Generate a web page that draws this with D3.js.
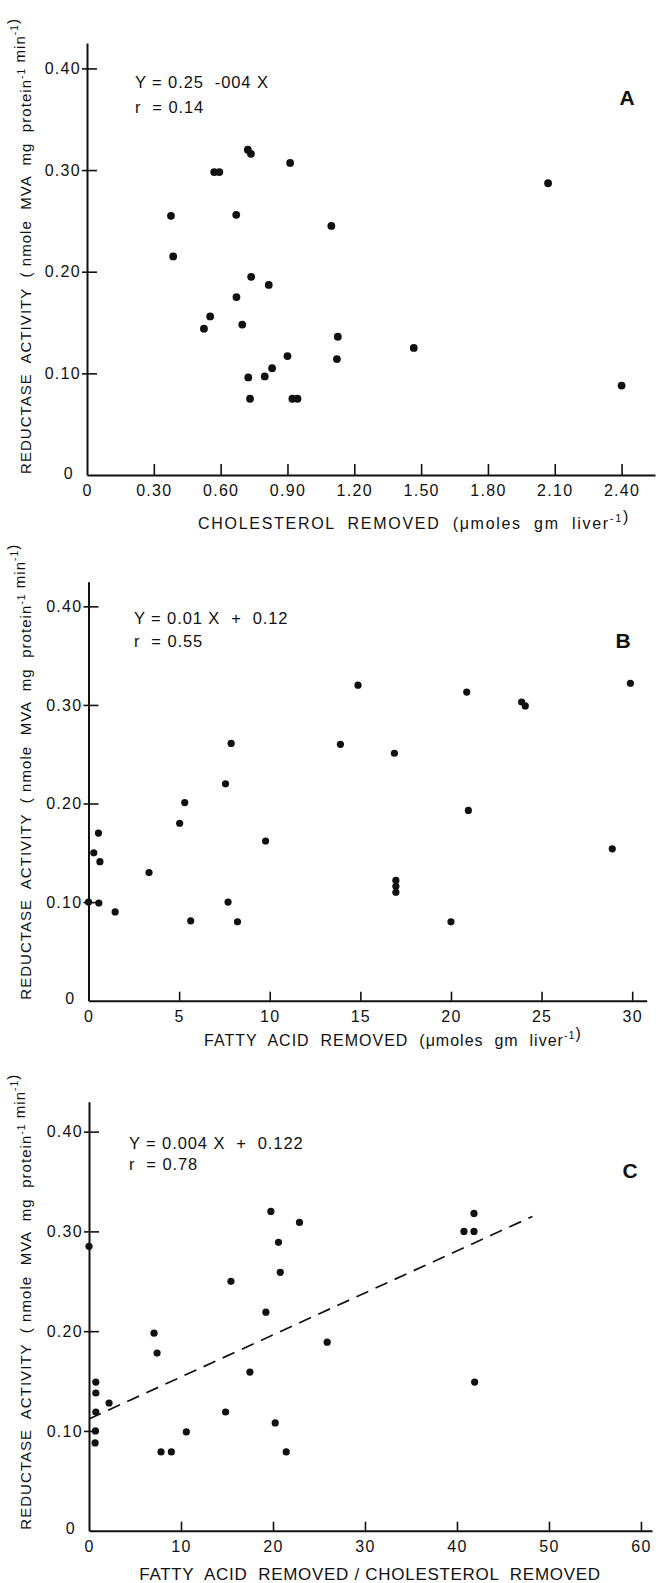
<!DOCTYPE html>
<html lang="en">
<head>
<meta charset="UTF-8">
<title>Reductase activity vs lipid removed</title>
<script src="https://d3js.org/d3.v7.min.js"></script>
<style>
    body {
        margin: 0;
        background: #fff;
    }

    svg {
        display: block;
        font-family: "Liberation Sans", Arial, sans-serif;
    }

    .domain {
        stroke: #111;
        stroke-width: 2;
    }

    .tick line {
        stroke: #111;
        stroke-width: 1.6;
    }

    .dot {
        fill: #111;
    }

    .fit {
        fill: none;
        stroke: #111;
        stroke-width: 1.7;
        stroke-dasharray: 13 8;
    }
</style>
</head>
<body>
<div id="chart"></div>
<script>
    // Panel A: cholesterol removed (umoles / g liver) vs reductase activity
    const cholesterolRemoved = [0.377, 0.387, 0.525, 0.553, 0.571, 0.594, 0.670, 0.671, 0.697, 0.722,
        0.736, 0.737, 0.724, 0.732, 0.798, 0.816, 0.831, 0.900, 0.912, 0.922, 0.945, 1.097, 1.126,
        1.122, 1.467, 2.07, 2.40];
    const reductaseA = [0.255, 0.215, 0.144, 0.156, 0.298, 0.298, 0.256, 0.175, 0.148, 0.320,
        0.316, 0.195, 0.096, 0.075, 0.097, 0.187, 0.105, 0.117, 0.307, 0.075, 0.075, 0.245, 0.136,
        0.114, 0.125, 0.287, 0.088];

    // Panel B: fatty acid removed (umoles / g liver) vs reductase activity
    const fattyAcidRemoved = [0, 0.29, 0.55, 0.63, 0.57, 1.47, 3.34, 5.03, 5.31, 5.64, 7.56, 7.70,
        7.87, 8.22, 9.77, 13.9, 14.87, 16.88, 16.96, 16.96, 16.96, 20.0, 20.87, 20.96, 23.9, 24.1,
        28.9, 29.9];
    const reductaseB = [0.100, 0.150, 0.170, 0.141, 0.099, 0.090, 0.130, 0.180, 0.201, 0.081, 0.220,
        0.100, 0.261, 0.080, 0.162, 0.260, 0.320, 0.251, 0.122, 0.116, 0.110, 0.080, 0.313, 0.193,
        0.303, 0.299, 0.154, 0.322];

    // Panel C: fatty acid removed / cholesterol removed vs reductase activity
    const ratioRemoved = [0, 0.74, 0.74, 0.74, 0.70, 0.66, 2.18, 7.07, 7.4, 7.83, 8.95, 10.58,
        14.85, 15.43, 17.49, 19.23, 19.77, 20.24, 20.6, 20.79, 21.44, 22.88, 25.89, 40.76, 41.85,
        41.85, 41.92];
    const reductaseC = [0.285, 0.149, 0.138, 0.119, 0.100, 0.088, 0.128, 0.198, 0.178, 0.079, 0.079,
        0.099, 0.119, 0.250, 0.159, 0.219, 0.320, 0.108, 0.289, 0.259, 0.079, 0.309, 0.189, 0.300,
        0.318, 0.300, 0.149];

    // dashed regression line of panel C, end points as drawn
    const fitLineX = [0, 48.2];
    const fitLineY = [0.112, 0.315];

    // ticks
    const yTicks = [0, 0.10, 0.20, 0.30, 0.40];
    const xTicksA = [0, 0.30, 0.60, 0.90, 1.20, 1.50, 1.80, 2.10, 2.40];
    const xTicksB = [0, 5, 10, 15, 20, 25, 30];
    const xTicksC = [0, 10, 20, 30, 40, 50, 60];

    // texts
    const yTitle = [{ t: "REDUCTASE  ACTIVITY  ( nmole  MVA  mg  protein" }, { t: "-1", sup: true },
        { t: " min" }, { t: "-1", sup: true }, { t: ")" }];
    const xTitleA = [{ t: "CHOLESTEROL  REMOVED  (\u03bcmoles  gm  liver" }, { t: "-1", sup: true }, { t: ")" }];
    const xTitleB = [{ t: "FATTY  ACID  REMOVED  (\u03bcmoles  gm  liver" }, { t: "-1", sup: true }, { t: ")" }];
    const xTitleC = [{ t: "FATTY  ACID  REMOVED / CHOLESTEROL  REMOVED" }];
    const equations = [["Y = 0.25  -004 X", "r  = 0.14"], ["Y = 0.01 X  +  0.12", "r  = 0.55"],
        ["Y = 0.004 X  +  0.122", "r  = 0.78"]];
    const panelLetters = ["A", "B", "C"];

    const fmt2 = d => d === 0 ? "0" : d.toFixed(2);
    const fmt0 = d => String(d);

    // layout of the three stacked panels
    const panels = [
        { xs: cholesterolRemoved, ys: reductaseA, xTicks: xTicksA, xFmt: fmt2,
            xDomain: [0, 2.55], xRange: [87, 655], yDomain: [0, 0.425], yRange: [475, 43],
            r: 3.9, xTickLen: 11, eqPos: [135, 88, 113], letterPos: [627, 105],
            xTitle: xTitleA, xTitlePos: [414, 529], xTitleSize: 16, xTitleSpacing: 1.7 },
        { xs: fattyAcidRemoved, ys: reductaseB, xTicks: xTicksB, xFmt: fmt0,
            xDomain: [0, 30.8], xRange: [88.5, 646.7], yDomain: [0, 0.425], yRange: [1000.7, 581.7],
            r: 3.6, xTickLen: 9, eqPos: [134, 624, 647], letterPos: [623, 648],
            xTitle: xTitleB, xTitlePos: [393, 1046], xTitleSize: 16, xTitleSpacing: 1.0 },
        { xs: ratioRemoved, ys: reductaseC, xTicks: xTicksC, xFmt: fmt0,
            xDomain: [0, 61.2], xRange: [89, 652], yDomain: [0, 0.43], yRange: [1530.7, 1101.7],
            r: 3.6, xTickLen: 9, eqPos: [129, 1149, 1170], letterPos: [630, 1178],
            xTitle: xTitleC, xTitlePos: [370, 1580], xTitleSize: 17, xTitleSpacing: 0.7 }
    ];

    const svg = d3.select("#chart")
        .append("svg")
        .attr("width", 662)
        .attr("height", 1583);

    // write a text made of plain and superscript pieces
    function addRich(sel, parts, size) {
        parts.forEach(p => {
            if (p.sup) {
                sel.append("tspan")
                    .attr("font-size", size * 0.68)
                    .attr("dy", -size * 0.42)
                    .text(p.t);
                sel.append("tspan").attr("dy", size * 0.42).text("");
            } else {
                sel.append("tspan").text(p.t);
            }
        });
    }

    panels.forEach((p, i) => {
        const g = svg.append("g");

        const x = d3.scaleLinear().domain(p.xDomain).range(p.xRange);
        const y = d3.scaleLinear().domain(p.yDomain).range(p.yRange);
        const x0 = x(0), yBase = y(0);

        // x axis, ticks pointing up into the plot
        const xAxis = g.append("g")
            .attr("transform", `translate(0,${yBase})`)
            .call(d3.axisBottom(x).tickValues(p.xTicks).tickFormat(p.xFmt)
                .tickSizeInner(-p.xTickLen).tickSizeOuter(0).tickPadding(10));
        xAxis.selectAll(".tick").filter(d => d === 0).select("line").remove();
        xAxis.selectAll("text")
            .attr("font-size", 16)
            .attr("letter-spacing", 1.3)
            .attr("fill", "#111");

        // y axis, ticks crossing the line
        const yAxis = g.append("g")
            .attr("transform", `translate(${x0},0)`)
            .call(d3.axisLeft(y).tickValues(yTicks).tickFormat(fmt2)
                .tickSizeInner(-10).tickSizeOuter(0).tickPadding(6));
        yAxis.selectAll(".tick line").attr("x1", -5);
        yAxis.selectAll(".tick").filter(d => d === 0).select("line").remove();
        yAxis.selectAll(".tick").filter(d => d === 0).select("text")
            .attr("x", -13).attr("dy", "0.2em");
        yAxis.selectAll("text")
            .attr("font-size", 16)
            .attr("letter-spacing", 1.3)
            .attr("fill", "#111");

        // regression line (panel C only)
        if (i === 2) {
            const line = d3.line().x(d => x(d[0])).y(d => y(d[1]));
            g.append("path")
                .datum(fitLineX.map((v, k) => [v, fitLineY[k]]))
                .attr("class", "fit")
                .attr("d", line);
        }

        // points
        g.selectAll(".dot")
            .data(p.xs.map((v, k) => [v, p.ys[k]]))
            .join("circle")
            .attr("class", "dot")
            .attr("cx", d => x(d[0]))
            .attr("cy", d => y(d[1]))
            .attr("r", p.r);

        // equation
        equations[i].forEach((s, k) => {
            g.append("text")
                .attr("x", p.eqPos[0])
                .attr("y", p.eqPos[1 + k])
                .attr("font-size", 16.5)
                .attr("letter-spacing", 0.9)
                .attr("fill", "#111")
                .style("white-space", "pre")
                .text(s);
        });

        // panel letter
        g.append("text")
            .attr("x", p.letterPos[0])
            .attr("y", p.letterPos[1])
            .attr("text-anchor", "middle")
            .attr("font-size", 21)
            .attr("font-weight", "bold")
            .attr("fill", "#111")
            .text(panelLetters[i]);

        // x title
        const xt = g.append("text")
            .attr("x", p.xTitlePos[0])
            .attr("y", p.xTitlePos[1])
            .attr("text-anchor", "middle")
            .attr("font-size", p.xTitleSize)
            .attr("letter-spacing", p.xTitleSpacing)
            .attr("fill", "#111")
            .style("white-space", "pre");
        addRich(xt, p.xTitle, p.xTitleSize);

        // y title, reads bottom to top starting at the x axis level
        const yt = g.append("text")
            .attr("transform", `translate(31,${yBase - 1}) rotate(-90)`)
            .attr("font-size", 15)
            .attr("letter-spacing", 1.05)
            .attr("fill", "#111")
            .style("white-space", "pre");
        addRich(yt, yTitle, 15);
    });
</script>
</body>
</html>
